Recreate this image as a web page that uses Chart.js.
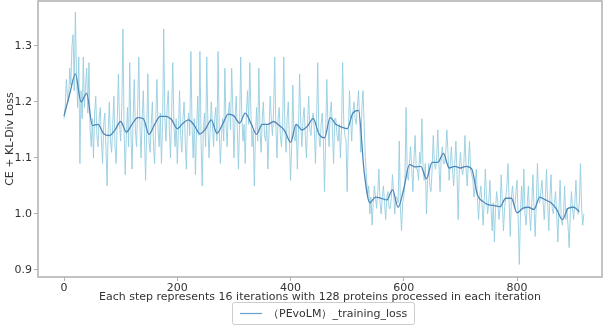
<!DOCTYPE html>
<html>
<head>
<meta charset="utf-8">
<script src="https://cdn.jsdelivr.net/npm/chart.js@4.4.1/dist/chart.umd.min.js"></script>
<style>
html,body{margin:0;padding:0;background:#fff;}
#wrap{width:605px;height:326px;}
</style>
</head>
<body>
<div id="wrap"><canvas id="c" width="605" height="326"></canvas></div>
<script>
// ---- data ----
const seriesLabel = '（PEvoLM）_training_loss';
const xTitle = 'Each step represents 16 iterations with 128 proteins processed in each iteration';
const yTitle = 'CE + KL-Div Loss';
const xTicks = [0, 200, 400, 600, 800];
const yTicks = [0.9, 1.0, 1.1, 1.2, 1.3];

// raw loss, one value every 2 steps (step 0 .. 918), 10 values per row = 20 steps
const rawStep = 2;
const rawLoss = [
  1.17,1.19,1.24,1.21,1.20,1.26,1.23,1.30,1.32,1.22,
  1.36,1.25,1.19,1.28,1.09,1.22,1.17,1.28,1.19,1.23,
  1.26,1.18,1.27,1.15,1.12,1.17,1.10,1.18,1.21,1.14,
  1.12,1.17,1.19,1.13,1.09,1.16,1.18,1.12,1.05,1.15,
  1.20,1.13,1.11,1.16,1.21,1.12,1.09,1.17,1.25,1.16,
  1.13,1.19,1.33,1.15,1.07,1.14,1.19,1.12,1.27,1.15,
  1.08,1.17,1.24,1.15,1.12,1.19,1.28,1.16,1.10,1.17,
  1.22,1.14,1.06,1.15,1.25,1.13,1.11,1.16,1.20,1.12,
  1.09,1.17,1.24,1.15,1.12,1.18,1.09,1.16,1.33,1.17,
  1.13,1.19,1.22,1.15,1.10,1.18,1.27,1.16,1.12,1.17,
  1.09,1.15,1.22,1.14,1.11,1.17,1.20,1.13,1.08,1.16,
  1.18,1.14,1.29,1.16,1.10,1.17,1.07,1.15,1.21,1.14,
  1.29,1.13,1.05,1.15,1.18,1.12,1.28,1.16,1.10,1.15,
  1.20,1.16,1.12,1.17,1.19,1.13,1.29,1.15,1.09,1.14,
  1.17,1.13,1.26,1.16,1.12,1.18,1.20,1.15,1.26,1.19,
  1.10,1.17,1.21,1.15,1.08,1.16,1.28,1.17,1.13,1.16,
  1.09,1.18,1.22,1.16,1.27,1.18,1.12,1.15,1.05,1.14,
  1.19,1.13,1.26,1.15,1.11,1.17,1.20,1.14,1.13,1.16,
  1.08,1.15,1.21,1.17,1.14,1.18,1.28,1.16,1.10,1.17,
  1.19,1.14,1.12,1.16,1.28,1.15,1.11,1.17,1.20,1.13,
  1.06,1.12,1.23,1.14,1.13,1.16,1.08,1.15,1.25,1.16,
  1.12,1.17,1.19,1.14,1.10,1.16,1.21,1.15,1.14,1.17,
  1.18,1.15,1.09,1.17,1.27,1.14,1.12,1.16,1.18,1.13,
  1.04,1.14,1.24,1.16,1.12,1.18,1.20,1.15,1.09,1.17,
  1.17,1.14,1.13,1.16,1.10,1.15,1.27,1.16,1.14,1.13,
  1.04,1.14,1.22,1.17,1.13,1.18,1.20,1.17,1.16,1.19,
  1.22,1.17,1.11,1.19,1.22,1.16,1.10,1.07,1.03,1.05,
  1.00,1.03,0.98,1.02,1.05,1.03,1.01,1.04,1.08,1.02,
  1.00,1.03,1.05,1.02,0.99,1.03,1.04,1.01,1.01,1.03,
  1.07,1.04,1.00,1.03,1.03,1.02,1.13,1.01,0.97,1.02,
  1.03,1.06,1.19,1.07,1.06,1.09,1.12,1.08,1.04,1.10,
  1.14,1.08,1.08,1.06,1.11,1.09,1.17,1.08,1.06,1.09,
  1.00,1.06,1.09,1.05,1.04,1.08,1.14,1.09,1.08,1.10,
  1.15,1.09,1.04,1.10,1.12,1.09,1.09,1.11,1.15,1.11,
  1.06,1.09,1.12,1.08,1.05,1.09,1.13,1.07,0.99,1.08,
  1.11,1.08,1.07,1.09,1.14,1.08,1.05,1.09,1.13,1.08,
  1.07,1.06,1.03,1.05,1.08,1.03,0.99,1.03,1.05,1.02,
  0.98,1.02,1.08,1.03,1.00,1.02,1.06,1.01,0.97,1.02,
  0.95,1.01,1.04,1.02,0.99,1.01,1.07,1.02,0.97,1.01,
  1.03,1.05,1.09,1.02,0.96,1.03,1.05,1.02,1.01,1.04,
  1.06,0.99,0.91,1.00,1.05,1.01,1.08,1.00,0.98,1.02,
  1.05,1.00,0.97,1.02,1.07,1.01,0.96,1.02,1.09,1.03,
  1.02,1.04,1.06,1.02,0.99,1.03,1.08,1.02,0.97,1.03,
  1.07,1.01,1.00,1.02,1.04,1.00,0.95,1.01,1.06,0.99,
  0.98,1.00,1.05,0.99,1.01,0.98,0.94,1.00,1.04,1.01,
  0.99,1.02,1.06,1.01,1.00,1.02,1.09,1.01,0.98,1.00
];

// smoothed loss, one value every 10 steps (step 0 .. 910)
const smoothStep = 10;
const smoothLoss = [
  1.175,1.214,1.250,1.200,1.215,1.158,1.160,1.143,1.140,1.150,
  1.165,1.146,1.160,1.172,1.170,1.142,1.160,1.174,1.174,1.168,
  1.152,1.162,1.168,1.158,1.143,1.152,1.168,1.144,1.160,1.178,
  1.175,1.162,1.180,1.162,1.142,1.160,1.160,1.165,1.158,1.148,
  1.128,1.160,1.150,1.157,1.170,1.143,1.136,1.172,1.160,1.155,
  1.152,1.180,1.185,1.075,1.020,1.030,1.028,1.025,1.043,1.012,
  1.045,1.088,1.084,1.085,1.063,1.092,1.092,1.108,1.082,1.085,
  1.082,1.085,1.080,1.034,1.022,1.016,1.015,1.013,1.028,1.028,
  1.002,1.010,1.012,1.008,1.030,1.025,1.020,1.008,0.990,1.010,
  1.012,1.004
];

const rawPts = rawLoss.map((v, i) => ({x: i * rawStep, y: v}));
const smoothPts = smoothLoss.map((v, i) => ({x: i * smoothStep, y: v}));

const FONT = '"DejaVu Sans", sans-serif';
const AXIS_COLOR = '#b0b0b0';
const TEXT_COLOR = '#333333';

const framePlugin = {
  id: 'frame',
  afterDraw(chart) {
    const {ctx, chartArea: a} = chart;
    ctx.save();
    ctx.strokeStyle = AXIS_COLOR;
    ctx.lineWidth = 1.5;
    ctx.strokeRect(a.left, a.top, a.right - a.left, a.bottom - a.top);
    // legend box
    const bx = 232, by = 302, bw = 182, bh = 22;
    ctx.fillStyle = '#fff';
    ctx.strokeStyle = '#cccccc';
    ctx.lineWidth = 1;
    ctx.beginPath();
    ctx.roundRect(bx + 0.5, by + 0.5, bw, bh, 2);
    ctx.fill();
    ctx.stroke();
    ctx.strokeStyle = '#6a9fcb';
    ctx.lineWidth = 1.2;
    ctx.beginPath();
    ctx.moveTo(bx + 8, by + bh / 2 + 0.5);
    ctx.lineTo(bx + 30, by + bh / 2 + 0.5);
    ctx.stroke();
    ctx.fillStyle = TEXT_COLOR;
    ctx.font = '11px ' + FONT;
    ctx.textBaseline = 'middle';
    ctx.textAlign = 'left';
    ctx.fillText(seriesLabel, bx + 36, by + bh / 2 + 1);
    ctx.restore();
  }
};

new Chart(document.getElementById('c'), {
  type: 'line',
  data: {
    datasets: [
      {
        label: seriesLabel + ' raw',
        data: rawPts,
        borderColor: 'rgba(150,205,224,0.9)',
        borderWidth: 1,
        pointRadius: 0,
        tension: 0,
        order: 2
      },
      {
        label: seriesLabel,
        data: smoothPts,
        borderColor: '#4f87b8',
        borderWidth: 1.3,
        pointRadius: 0,
        cubicInterpolationMode: 'monotone',
        order: 1
      }
    ]
  },
  options: {
    responsive: false,
    animation: false,
    layout: {padding: {left: 0, right: 3, top: 1, bottom: 22}},
    plugins: {legend: {display: false}, tooltip: {enabled: false}},
    scales: {
      x: {
        type: 'linear',
        min: -46,
        max: 950,
        afterBuildTicks(s) { s.ticks = xTicks.map(v => ({value: v})); },
        grid: {drawOnChartArea: false, drawTicks: true, tickLength: 4, color: AXIS_COLOR},
        border: {display: false},
        ticks: {color: TEXT_COLOR, font: {family: FONT, size: 11}, padding: 1, maxRotation: 0},
        title: {display: true, text: xTitle, color: TEXT_COLOR, font: {family: FONT, size: 11}, padding: {top: 0, bottom: 0}},
        afterFit(s) { s.height = 27; s.paddingLeft = 0; s.paddingRight = 0; }
      },
      y: {
        type: 'linear',
        min: 0.8875,
        max: 1.380,
        afterBuildTicks(s) { s.ticks = yTicks.map(v => ({value: v})); },
        grid: {drawOnChartArea: false, drawTicks: true, tickLength: 4, color: AXIS_COLOR},
        border: {display: false},
        ticks: {color: TEXT_COLOR, font: {family: FONT, size: 11}, padding: 2, callback: v => v.toFixed(1)},
        title: {display: true, text: yTitle, color: TEXT_COLOR, font: {family: FONT, size: 11}, padding: {top: 4, bottom: 0}},
        afterFit(s) { s.width = 38; s.paddingTop = 0; s.paddingBottom = 0; }
      }
    }
  },
  plugins: [framePlugin]
});
</script>
</body>
</html>
